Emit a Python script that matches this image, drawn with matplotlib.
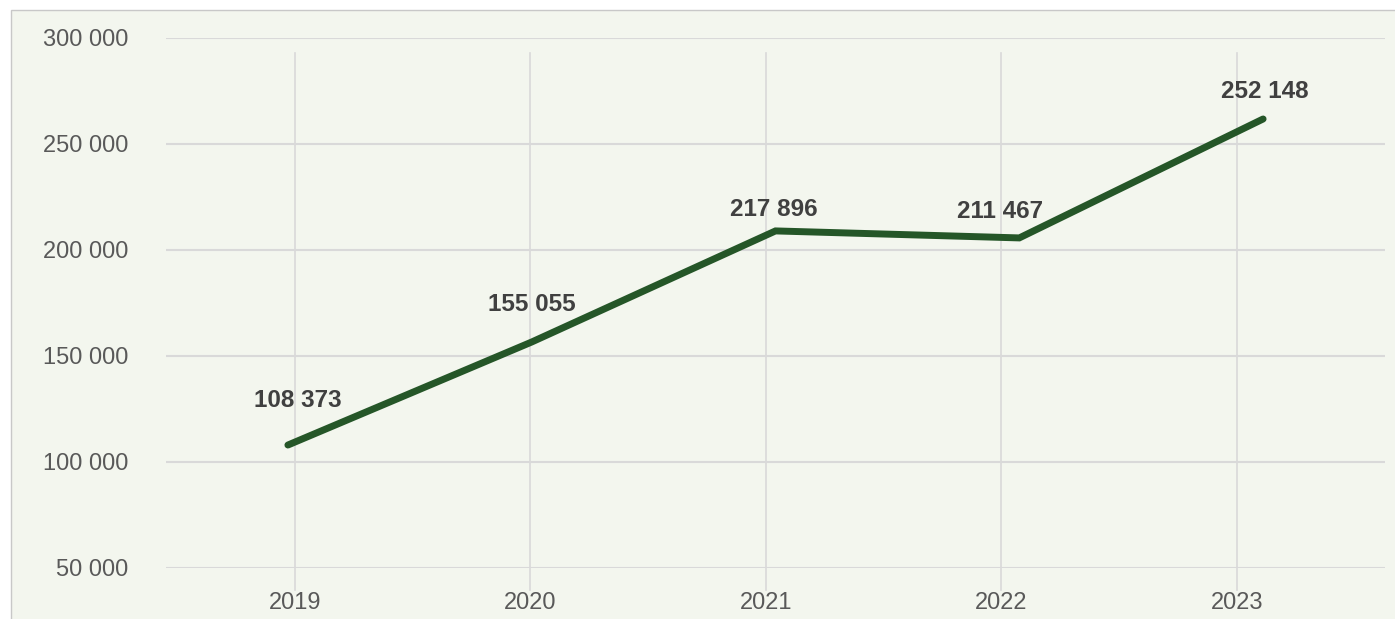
import matplotlib
matplotlib.use('Agg')
import matplotlib.pyplot as plt
from matplotlib.patches import Rectangle

plt.rcParams['font.family'] = ['Liberation Sans', 'DejaVu Sans']

# data
years = ['2019', '2020', '2021', '2022', '2023']
labels = [108373, 155055, 217896, 211467, 252148]
# the drawn line does not sit exactly on the labelled values
line_values = [108000, 156600, 209000, 205700, 261800]
y_ticks = [50000, 100000, 150000, 200000, 250000, 300000]

# label offsets from the line points, pixels
label_offsets = [(10, 45), (0, 38), (-2, 21), (-19, 26), (2, 27)]

BG = '#f3f6ee'
GRID = '#d9d9d9'
LINE = '#255628'


def fmt(v):
    return '{:,}'.format(v).replace(',', ' ')


fig = plt.figure(figsize=(13.95, 6.19), dpi=100)
fig.patch.set_facecolor('white')
W, H = 1395, 619
frame = Rectangle((11 / W, -0.1), 2, (H - 10) / H + 0.1, transform=fig.transFigure,
                  facecolor=BG, edgecolor='#c8c8c8', linewidth=1, zorder=0)
fig.add_artist(frame)

ax = fig.add_axes([166 / W, 51 / H, 1219 / W, 530 / H])
ax.set_facecolor('none')
ax.set_ylim(50000, 300000)
ax.set_xlim(-0.548, 4.63)
ax.set_yticks(y_ticks)
ax.set_yticklabels([fmt(v) for v in y_ticks])
ax.set_xticks(range(len(years)))
ax.set_xticklabels(years)
ax.tick_params(axis='both', length=0, labelsize=17, colors='#595959')
ax.tick_params(axis='y', pad=27)
ax.tick_params(axis='x', pad=17)
for s in ax.spines.values():
    s.set_visible(False)
ax.grid(axis='y', color=GRID, linewidth=1.5, zorder=1)
for i in range(len(years)):
    ax.axvline(i, ymin=-0.042, ymax=0.972, color=GRID, linewidth=1.2, clip_on=False, zorder=1)

# line on its own x scale
ax2 = ax.twiny()
ax2.set_xlim(-0.5, 4.5)
ax2.set_ylim(ax.get_ylim())
ax2.axis('off')
ax2.plot(range(len(years)), line_values, color=LINE, linewidth=5, solid_capstyle='round',
         solid_joinstyle='miter', zorder=3)
for i, (v, lab) in enumerate(zip(line_values, labels)):
    dx, dy = label_offsets[i]
    ax2.annotate(fmt(lab), (i, v), xytext=(dx, dy), textcoords='offset pixels',
                 ha='center', va='center', fontsize=17.5, fontweight='bold', color='#404040')

fig.savefig('out.png', dpi=100, facecolor=fig.get_facecolor())
